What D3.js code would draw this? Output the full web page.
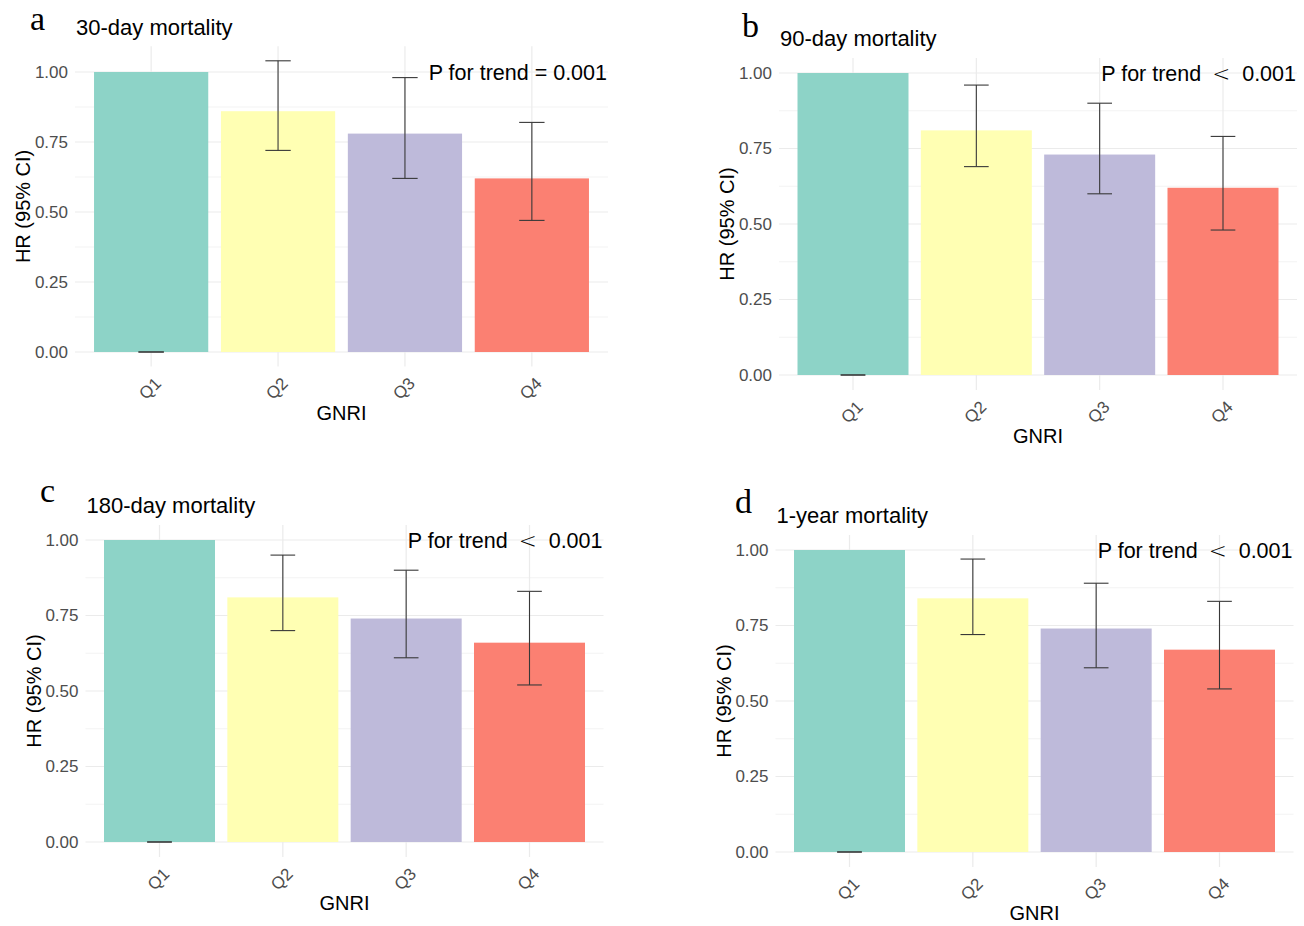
<!DOCTYPE html>
<html lang="en">
<head>
    <meta charset="UTF-8">
    <title>GNRI quartiles and mortality</title>

    <script src="https://d3js.org/d3.v7.min.js"></script>

    <style>
        body { margin: 0; background: #fff; }
        svg { display: block; font-family: "Liberation Sans", Arial, sans-serif; }
        .tick text { fill: #4d4d4d; font-size: 17px; }
        .panel_title { font-size: 22px; fill: #000; }
        .trend { font-size: 21.5px; fill: #000; white-space: pre; }
        .lt { font-family: "DejaVu Sans", sans-serif; font-weight: 200; }
        .axis_title { font-size: 20px; fill: #000; }
        .letter { font-family: "Liberation Serif", "Times New Roman", serif; font-size: 34px; fill: #000; }
    </style>
</head>

<body>
<svg width="1304" height="926"></svg>

<script>
    // ---- data ----
    const groups = ["Q1", "Q2", "Q3", "Q4"];
    const letters = ["a", "b", "c", "d"];
    const titles = ["30-day mortality", "90-day mortality", "180-day mortality", "1-year mortality"];
    const trendLabels = ["P for trend = 0.001", "P for trend < 0.001", "P for trend < 0.001", "P for trend < 0.001"];

    const hr30 = [1.00, 0.86, 0.78, 0.62];
    const lo30 = [0, 0.72, 0.62, 0.47];
    const hi30 = [0, 1.04, 0.98, 0.82];

    const hr90 = [1.00, 0.81, 0.73, 0.62];
    const lo90 = [0, 0.69, 0.60, 0.48];
    const hi90 = [0, 0.96, 0.90, 0.79];

    const hr180 = [1.00, 0.81, 0.74, 0.66];
    const lo180 = [0, 0.70, 0.61, 0.52];
    const hi180 = [0, 0.95, 0.90, 0.83];

    const hr365 = [1.00, 0.84, 0.74, 0.67];
    const lo365 = [0, 0.72, 0.61, 0.54];
    const hi365 = [0, 0.97, 0.89, 0.83];

    const yTicks = [0, 0.25, 0.5, 0.75, 1];
    const barColors = ["#8DD3C7", "#FFFFB3", "#BEBADA", "#FB8072"];

    // where each panel sits on the page (pixel positions of y = 0 and y = 1)
    const layout = [
        {left: 75,    right: 608,    zero: 352, one: 72,  letterX: 30,  letterY: 30},
        {left: 779,   right: 1297,   zero: 375, one: 73,  letterX: 742, letterY: 37},
        {left: 85.5,  right: 603.5,  zero: 842, one: 540, letterX: 40,  letterY: 502},
        {left: 775.5, right: 1293.5, zero: 852, one: 550, letterX: 735, letterY: 513}
    ];

    const series = [
        [hr30, lo30, hi30],
        [hr90, lo90, hi90],
        [hr180, lo180, hi180],
        [hr365, lo365, hi365]
    ];

    let svg = d3.select("svg");

    function draw_panel(i)
    {
        const L = layout[i];
        const [hr, lo, hi] = series[i];
        const rows = groups.map((g, k) => ({g: g, hr: hr[k], lo: lo[k], hi: hi[k], col: barColors[k]}));

        const x = d3.scaleBand()
            .domain(groups)
            .range([L.left, L.right])
            .paddingInner(0.1)
            .paddingOuter(0.15);

        const y = d3.scaleLinear()
            .domain([0, 1])
            .range([L.zero, L.one]);

        // ggplot style 5% expansion of the data range
        const ymax = d3.max(rows, d => Math.max(d.hr, d.hi));
        const top = y(ymax * 1.05);
        const bottom = y(-ymax * 0.05);
        const step = x.step();
        const mid = d => x(d) + x.bandwidth() / 2;

        let g = svg.append("g");

        // minor grid
        const minor = d3.range(0.125, ymax * 1.05, 0.25);
        g.selectAll(".minor").data(minor).enter().append("line")
            .attr("x1", L.left).attr("x2", L.right)
            .attr("y1", d => y(d)).attr("y2", d => y(d))
            .attr("stroke", "#ebebeb").attr("stroke-width", 0.6);

        // major grid
        g.selectAll(".major").data(yTicks).enter().append("line")
            .attr("x1", L.left).attr("x2", L.right)
            .attr("y1", d => y(d)).attr("y2", d => y(d))
            .attr("stroke", "#ebebeb").attr("stroke-width", 1.2);

        g.selectAll(".vgrid").data(groups).enter().append("line")
            .attr("x1", mid).attr("x2", mid)
            .attr("y1", top).attr("y2", bottom)
            .attr("stroke", "#ebebeb").attr("stroke-width", 1.2);

        // bars
        g.selectAll(".bar").data(rows).enter().append("rect")
            .attr("x", d => x(d.g))
            .attr("width", x.bandwidth())
            .attr("y", d => y(d.hr))
            .attr("height", d => y(0) - y(d.hr))
            .attr("fill", d => d.col);

        // error bars
        const half = step * 0.1;
        let eb = g.selectAll(".eb").data(rows).enter().append("g")
            .attr("stroke", "#383838").attr("stroke-width", 1.1);
        eb.append("line")
            .attr("x1", d => mid(d.g)).attr("x2", d => mid(d.g))
            .attr("y1", d => y(d.lo)).attr("y2", d => y(d.hi));
        eb.append("line")
            .attr("x1", d => mid(d.g) - half).attr("x2", d => mid(d.g) + half)
            .attr("y1", d => y(d.lo)).attr("y2", d => y(d.lo));
        eb.append("line")
            .attr("x1", d => mid(d.g) - half).attr("x2", d => mid(d.g) + half)
            .attr("y1", d => y(d.hi)).attr("y2", d => y(d.hi));

        // y axis (labels only)
        let ya = g.append("g")
            .attr("transform", `translate(${L.left},0)`)
            .call(d3.axisLeft(y).tickValues(yTicks).tickFormat(d3.format(".2f")).tickSize(0).tickPadding(7));
        ya.select(".domain").remove();
        ya.selectAll("text").attr("font-family", null).attr("font-size", null);

        // x labels, rotated 45 degrees
        g.selectAll(".xlab").data(groups).enter().append("text")
            .attr("transform", d => `translate(${mid(d) + 2},${bottom + 9}) rotate(-45)`)
            .attr("text-anchor", "end")
            .attr("dy", "0.75em")
            .attr("fill", "#4d4d4d")
            .attr("font-size", 17)
            .text(d => d);

        // axis titles
        g.append("text").attr("class", "axis_title")
            .attr("x", (L.left + L.right) / 2).attr("y", bottom + 53)
            .attr("text-anchor", "middle")
            .text("GNRI");
        g.append("text").attr("class", "axis_title")
            .attr("transform", `translate(${L.left - 45},${(top + bottom) / 2}) rotate(-90)`)
            .attr("text-anchor", "middle")
            .text("HR (95% CI)");

        // title, trend note and panel letter
        g.append("text").attr("class", "panel_title")
            .attr("x", L.left + 1).attr("y", top - 11.5)
            .text(titles[i]);

        // the "<" sign is drawn wider and thinner, with more room, as in the figure
        let tr = g.append("text").attr("class", "trend")
            .attr("x", L.right - 1).attr("y", y(1) + 7.5)
            .attr("text-anchor", "end");
        const parts = trendLabels[i].split("<");
        tr.append("tspan").text(parts[0]);
        if (parts.length > 1) {
            tr.append("tspan").attr("class", "lt").attr("dx", 5).text("<");
            tr.append("tspan").attr("dx", 6).text(parts[1]);
        }

        g.append("text").attr("class", "letter")
            .attr("x", L.letterX).attr("y", L.letterY)
            .text(letters[i]);
    }

    layout.forEach((d, i) => draw_panel(i));

</script>
</body>
</html>
